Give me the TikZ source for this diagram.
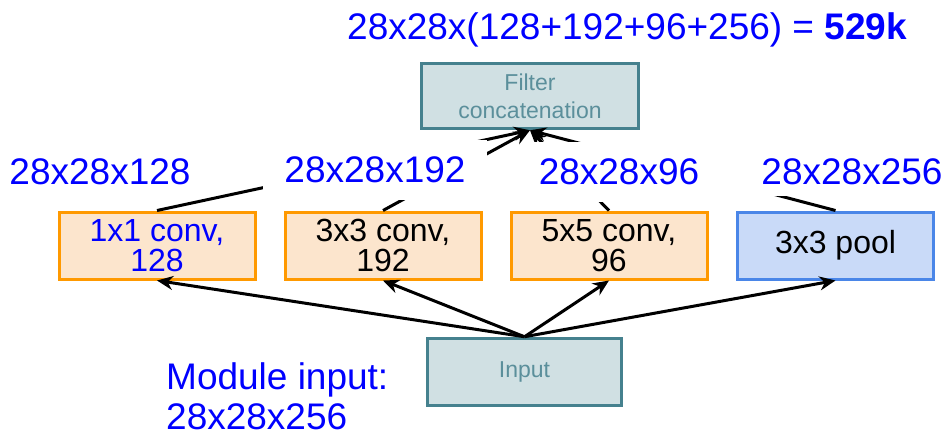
\documentclass[tikz,border=0pt]{standalone}
\usepackage{fontspec}
\setmainfont{Liberation Sans}
\usetikzlibrary{arrows.meta}
\definecolor{convborder}{HTML}{FF9900}
\definecolor{convfill}{HTML}{FCE5CD}
\definecolor{poolborder}{HTML}{4A86E8}
\definecolor{poolfill}{HTML}{C9DAF8}
\definecolor{tealborder}{HTML}{45818E}
\definecolor{tealfill}{HTML}{D0E0E3}
\definecolor{tealtext}{HTML}{5B8F9B}
\definecolor{dimblue}{HTML}{0000FF}
\begin{document}
\begin{tikzpicture}[x=1pt,y=-1pt,
  convbox/.style={draw=convborder,fill=convfill,line width=3pt,minimum width=196pt,minimum height=67pt,inner sep=0pt,align=center,font=\fontsize{32}{30}\selectfont},
  poolbox/.style={draw=poolborder,fill=poolfill,line width=3pt,minimum width=196pt,minimum height=67pt,inner sep=0pt,align=center,font=\fontsize{32}{30}\selectfont},
  tealbox/.style={draw=tealborder,fill=tealfill,line width=3.5pt,inner sep=0pt,align=center,text=tealtext,font=\fontsize{23}{28}\selectfont},
  dimlabel/.style={fill=white,inner sep=0pt,text=dimblue,font=\fontsize{37}{40}\selectfont},
  flow/.style={line width=3pt,-{Stealth[length=16pt,width=14pt]}}
]
\useasboundingbox (0,0) rectangle (946,437);

\node[tealbox,minimum width=217pt,minimum height=65pt] (filter) at (530,96) {Filter\\concatenation};
\node[tealbox,minimum width=194pt,minimum height=67pt] (input) at (524.5,372) {Input};

\node[convbox,text=dimblue] (c1) at (157,245.5) {1x1 conv,\\128};
\node[convbox] (c3) at (383,245.5) {3x3 conv,\\192};
\node[convbox] (c5) at (609,245.5) {5x5 conv,\\96};
\node[poolbox] (pool) at (835.5,245.5) {3x3 pool};

\draw[flow] (input.north) -- (c1.south);
\draw[flow] (input.north) -- (c3.south);
\draw[flow] (input.north) -- (c5.south);
\draw[flow] (input.north) -- (pool.south);

\draw[flow] (c1.north) -- (filter.south);
\draw[flow] (c3.north) -- (filter.south);
\draw[flow] (c5.north) -- (filter.south);
\draw[flow] (pool.north) -- (filter.south);

\node[dimlabel] (l1) at (100,172) {28x28x128};
\node[dimlabel,minimum width=224pt,minimum height=60pt] (l3) at (375,170) {28x28x192};
\node[dimlabel,minimum width=178pt,minimum height=60pt] (l5) at (619,172) {28x28x96};
\node[dimlabel,minimum width=288pt,minimum height=48pt] (lp) at (852,172) {28x28x256};

\node[dimlabel] (title) at (627,30) {28x28x(128+192+96+256) = \textbf{529k}};
\node[dimlabel,anchor=west,align=left,font=\fontsize{37}{40}\selectfont] (modin) at (166,396) {Module input:\\28x28x256};
\end{tikzpicture}
\end{document}
